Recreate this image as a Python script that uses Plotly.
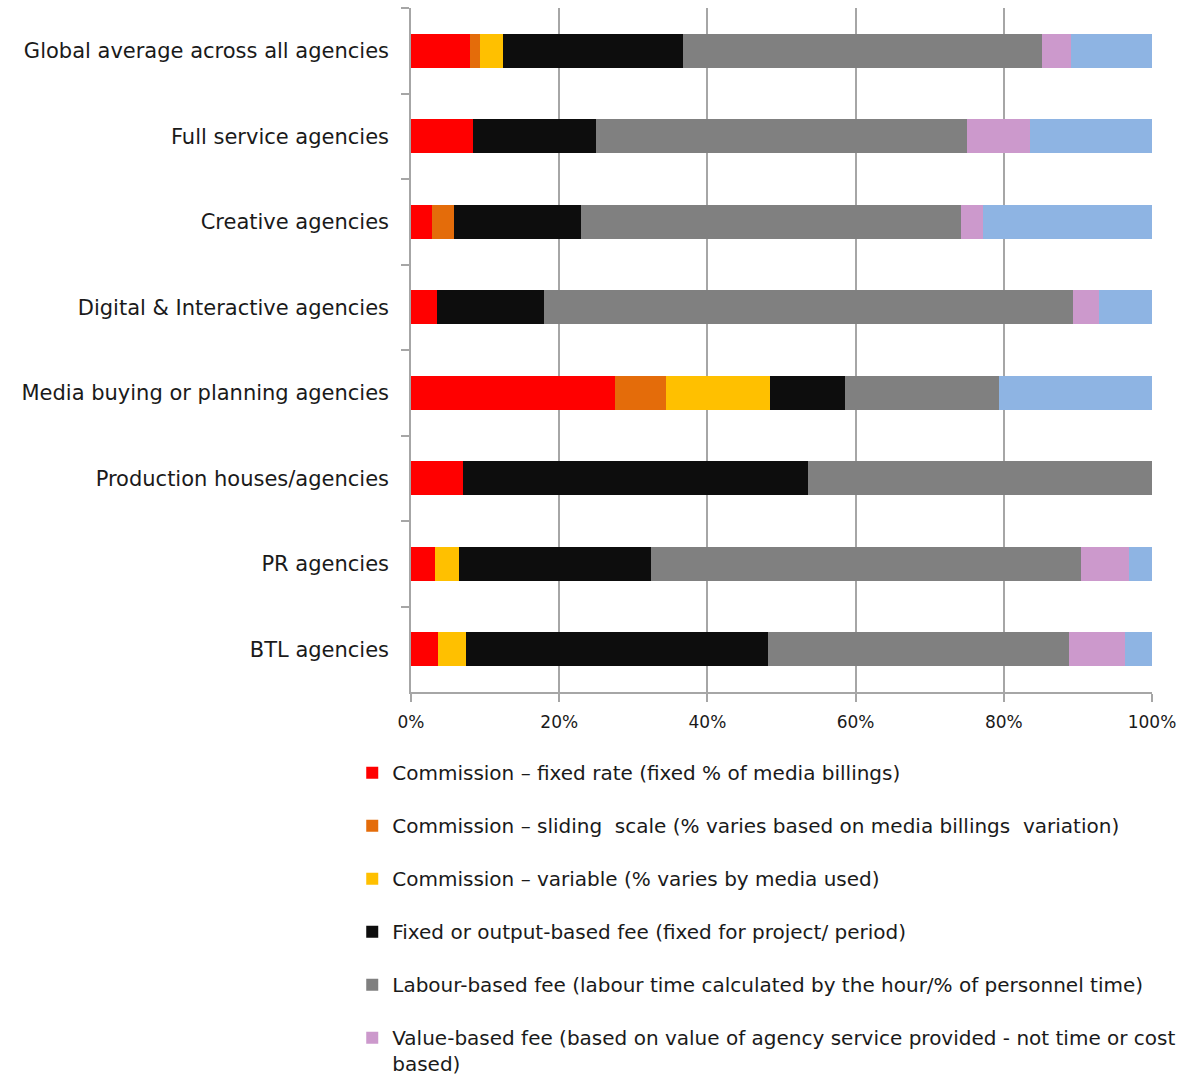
import plotly.graph_objects as go

categories = [
    "Global average across all agencies",
    "Full service agencies",
    "Creative agencies",
    "Digital & Interactive agencies",
    "Media buying or planning agencies",
    "Production houses/agencies",
    "PR agencies",
    "BTL agencies",
]

series_names = [
    "Commission – fixed rate (fixed % of media billings)",
    "Commission – sliding  scale (% varies based on media billings  variation)",
    "Commission – variable (% varies by media used)",
    "Fixed or output-based fee (fixed for project/ period)",
    "Labour-based fee (labour time calculated by the hour/% of personnel time)",
    "Value-based fee (based on value of agency service provided - not time or cost<br>based)",
    "Other",
]

commission_fixed = [7.9, 8.3, 2.9, 3.5, 27.5, 7.05, 3.3, 3.7]
commission_sliding = [1.45, 0, 2.9, 0, 6.9, 0, 0, 0]
commission_variable = [3.1, 0, 0, 0, 14.0, 0, 3.15, 3.75]
fixed_fee = [24.25, 16.7, 17.1, 14.4, 10.2, 46.55, 25.9, 40.7]
labour_fee = [48.4, 50.1, 51.3, 71.4, 20.7, 46.4, 58.1, 40.7]
value_fee = [4.0, 8.4, 3.0, 3.5, 0, 0, 6.4, 7.5]
other = [10.9, 16.5, 22.8, 7.2, 20.7, 0, 3.15, 3.65]

series_values = [commission_fixed, commission_sliding, commission_variable,
                 fixed_fee, labour_fee, value_fee, other]
colors = ["#FF0000", "#E46C0A", "#FFC000", "#0D0D0D", "#808080", "#CC99CC", "#8EB4E3"]

tick_vals = [0, 20, 40, 60, 80, 100]
tick_text = ["0%", "20%", "40%", "60%", "80%", "100%"]

FONT = "DejaVu Sans"

fig = go.Figure()
for i, (name, vals, col) in enumerate(zip(series_names, series_values, colors)):
    fig.add_trace(go.Bar(
        y=categories, x=vals, name=name, orientation="h",
        marker=dict(color=col, line=dict(width=0)),
        legendgroup=f"g{i}",
        showlegend=(i < 6),
    ))

fig.update_layout(
    barmode="stack",
    bargap=0.6,
    width=1184, height=1079,
    margin=dict(l=411, r=32, t=8, b=387, autoexpand=False),
    plot_bgcolor="white", paper_bgcolor="white",
    font=dict(family=FONT, size=20, color="#1a1a1a"),
    legend=dict(
        xref="container", yref="container",
        x=0.2975, y=0.302, xanchor="left", yanchor="top",
        traceorder="grouped", tracegroupgap=24,
        font=dict(family=FONT, size=20, color="#1a1a1a"),
        valign="top", itemwidth=30,
    ),
    xaxis=dict(
        range=[0, 100], tickvals=tick_vals, ticktext=tick_text,
        showgrid=True, gridcolor="#A6A6A6", gridwidth=1.5,
        showline=True, linecolor="#A6A6A6", linewidth=1.5,
        ticks="outside", ticklen=8, tickcolor="#A6A6A6", tickwidth=1.5,
        ticklabelstandoff=6,
        tickfont=dict(size=17), zeroline=False, automargin=False,
    ),
    yaxis=dict(
        categoryorder="array", categoryarray=categories, autorange="reversed",
        showline=True, linecolor="#A6A6A6", linewidth=1.5,
        ticks="outside", ticklen=8, tickcolor="#A6A6A6", tickwidth=1.5,
        tickson="boundaries", ticklabelstandoff=16,
        tickfont=dict(size=21), automargin=False,
    ),
)

fig.write_html("out.html")
